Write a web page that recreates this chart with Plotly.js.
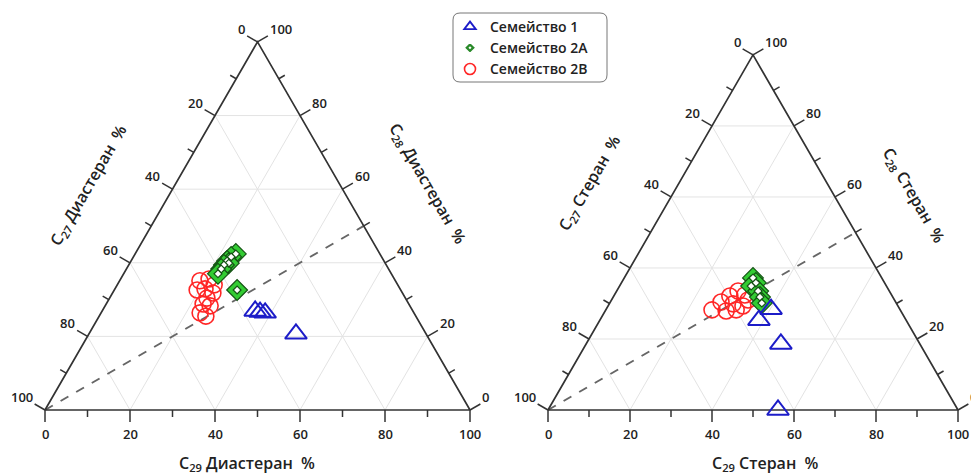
<!DOCTYPE html>
<html><head><meta charset="utf-8">
<script src="https://cdn.plot.ly/plotly-3.0.1.min.js"></script>
<style>html,body{margin:0;padding:0;background:#fff}</style>
</head><body><div id="chart" style="width:971px;height:474px"></div>
<script>
// Ternary components: C28 -> top vertex, C27 -> bottom-left vertex, C29 -> bottom-right vertex

// ---- Left diagram: Диастераны ----
const diaFam1_C27 = [37.1, 36.1, 35.0, 30.6];
const diaFam1_C28 = [26.9, 26.6, 26.4, 20.7];
const diaFam1_C29 = [36.0, 37.3, 38.6, 48.7];

const diaFam2A_C27 = [33.9, 35.4, 36.9, 36.8, 38.2, 39.4, 40.8, 38.5];
const diaFam2A_C28 = [42.4, 41.6, 40.5, 39.9, 39.4, 38.3, 37.0, 32.6];
const diaFam2A_C29 = [23.7, 23.0, 22.6, 23.3, 22.4, 22.3, 22.2, 28.9];

const diaFam2B_C27 = [46.0, 43.6, 43.2, 47.9, 45.9, 44.6, 46.7, 48.4, 47.0, 50.3, 49.4];
const diaFam2B_C28 = [35.1, 35.6, 34.0, 32.6, 32.9, 31.8, 30.4, 28.8, 28.3, 26.4, 25.5];
const diaFam2B_C29 = [18.9, 20.8, 22.8, 19.5, 21.2, 23.6, 22.9, 22.8, 24.7, 23.3, 25.1];

// ---- Right diagram: Стераны ----
const stFam1_C27 = [35.9, 31.4, 33.9, 43.9];
const stFam1_C28 = [25.3, 28.4, 18.6, 0.0];
const stFam1_C29 = [38.8, 40.2, 47.5, 56.1];

const stFam2A_C27 = [31.4, 31.4, 33.0, 32.0, 32.4, 32.8];
const stFam2A_C28 = [37.2, 35.8, 34.9, 33.5, 31.8, 30.1];
const stFam2A_C29 = [31.4, 32.8, 32.1, 34.5, 35.8, 37.1];

const stFam2B_C27 = [45.9, 42.6, 39.6, 36.9, 35.8, 39.9, 37.8, 42.6, 40.0, 35.7];
const stFam2B_C28 = [28.2, 30.4, 32.1, 33.5, 32.4, 29.9, 29.3, 27.9, 28.2, 31.0];
const stFam2B_C29 = [25.9, 27.0, 28.3, 29.6, 31.8, 30.2, 32.9, 29.5, 31.8, 33.3];

// Reference line (C28 = C29) from the C27 vertex
const refLine_C27 = [100, 0];
const refLine_C28 = [0, 50];
const refLine_C29 = [0, 50];

// Axis ticks (percent) and labels
const majorTicks = [0, 20, 40, 60, 80, 100];
const majorLabels = ['0', '20', '40', '60', '80', '100'];
const minorTicks = [10, 30, 50, 70, 90];
const gridVals = [20, 40, 60, 80];

const seriesNames = ['Семейство 1', 'Семейство 2A', 'Семейство 2B'];
const titlesLeft = ['C<sub>27</sub> Диастеран\u00a0 %', 'C<sub>28</sub> Диастеран\u00a0 %', 'C<sub>29</sub> Диастеран\u00a0 %'];
const titlesRight = ['C<sub>27</sub> Стеран\u00a0 %', 'C<sub>28</sub> Стеран\u00a0 %', 'C<sub>29</sub> Стеран\u00a0 %'];

// ---------------- styling / geometry ----------------
const FONT = 'Open Sans, Noto Sans, sans-serif';
const W = 971, H = 474;
const BLUE = '#1c1cc8', RED = '#ff2626', GREEN = '#33cc33', DKGREEN = '#145214';
const AXC = '#333333';
const SQ = Math.sqrt(3) / 2;
const MAJ_LEN = 12, MIN_LEN = 7;   // tick lengths in px

// ternary (c27 = b, c28 = a, c29 = c) -> cartesian unit-triangle coords (side 100)
function toXY(c27, c28, c29) {
  const s = c27 + c28 + c29;
  return [(c29 + c28 / 2) / s * 100, c28 / s * 100 * SQ];
}
function mapXY(C27, C28, C29) {
  const x = [], y = [];
  for (let i = 0; i < C27.length; i++) { const p = toXY(C27[i], C28[i], C29[i]); x.push(p[0]); y.push(p[1]); }
  return {x, y};
}

const panels = [
  {xa:'x', ya:'y', S:4.25, ox:45, oy:410, pxRange:[0, 485.5], dom:[0, 0.5], titles:titlesLeft,
   titlePos:[[88, 185, -60], [427, 184, 60], [247, 463, 0]],
   f1:[diaFam1_C27, diaFam1_C28, diaFam1_C29], f2a:[diaFam2A_C27, diaFam2A_C28, diaFam2A_C29],
   f2b:[diaFam2B_C27, diaFam2B_C28, diaFam2B_C29]},
  {xa:'x2', ya:'y2', S:4.10, ox:548, oy:410, pxRange:[485.5, 971], dom:[0.5, 1], titles:titlesRight,
   titlePos:[[589, 183, -60], [914, 195, 60], [765, 463, 0]],
   f1:[stFam1_C27, stFam1_C28, stFam1_C29], f2a:[stFam2A_C27, stFam2A_C28, stFam2A_C29],
   f2b:[stFam2B_C27, stFam2B_C28, stFam2B_C29]}
];

// edges: point on edge for a given tick value, and outward normal (data units)
const edges = [
  {pt: v => toXY(100 - v, 0, v), n: [0, -1], kind:'bottom'},          // C29 axis
  {pt: v => toXY(v, 100 - v, 0), n: [-SQ, 0.5], kind:'left'},         // C27 axis
  {pt: v => toXY(0, v, 100 - v), n: [SQ, 0.5], kind:'right'}          // C28 axis
];

const data = [];
const annotations = [];

panels.forEach(P => {
  const base = {xaxis:P.xa, yaxis:P.ya, showlegend:false, hoverinfo:'skip'};
  // grid
  const gx = [], gy = [];
  gridVals.forEach(v => {
    [[toXY(100 - v, v, 0), toXY(0, v, 100 - v)],
     [toXY(v, 100 - v, 0), toXY(v, 0, 100 - v)],
     [toXY(100 - v, 0, v), toXY(0, 100 - v, v)]].forEach(seg => {
      gx.push(seg[0][0], seg[1][0], null); gy.push(seg[0][1], seg[1][1], null);
    });
  });
  data.push(Object.assign({type:'scatter', mode:'lines', x:gx, y:gy, line:{color:'#e3e3e3', width:1}}, base));
  // reference line
  const rl = mapXY(refLine_C27, refLine_C28, refLine_C29);
  data.push(Object.assign({type:'scatter', mode:'lines', x:rl.x, y:rl.y,
    line:{color:'#666', width:2, dash:'dash'}}, base));
  // frame
  const fr = mapXY([100, 0, 0, 100], [0, 0, 100, 0], [0, 100, 0, 0]);
  data.push(Object.assign({type:'scatter', mode:'lines', x:fr.x, y:fr.y, line:{color:AXC, width:1.7}}, base));
  // ticks + labels
  const tx = [], ty = [];
  edges.forEach(E => {
    const add = (v, len) => {
      const p = E.pt(v), L = len / P.S;
      const q = [p[0] + E.n[0] * L, p[1] + E.n[1] * L];
      tx.push(p[0], q[0], null); ty.push(p[1], q[1], null);
      return q;
    };
    minorTicks.forEach(v => add(v, MIN_LEN));
    majorTicks.forEach((v, i) => {
      const q = add(v, MAJ_LEN);
      const a = {text:majorLabels[i], x:q[0], y:q[1], xref:P.xa, yref:P.ya, showarrow:false,
                 font:{family:FONT, size:13, color:'#222', weight:600}, borderpad:0};
      if (E.kind === 'bottom') { a.xanchor = 'center'; a.yanchor = 'top'; a.yshift = -2; }
      else if (E.kind === 'left') { a.xanchor = 'right'; a.yanchor = 'bottom'; a.xshift = -1; a.yshift = -3; }
      else { a.xanchor = 'left'; a.yanchor = 'bottom'; a.xshift = 1; a.yshift = -3; }
      annotations.push(a);
    });
  });
  data.push(Object.assign({type:'scatter', mode:'lines', x:tx, y:ty, line:{color:AXC, width:1.5}}, base));
  // markers
  const r = mapXY(...P.f2b), g = mapXY(...P.f2a), b = mapXY(...P.f1);
  data.push({type:'scatter', mode:'markers', xaxis:P.xa, yaxis:P.ya, name:seriesNames[2], x:r.x, y:r.y, showlegend:false,
    cliponaxis:false, marker:{symbol:'circle-open', size:16, color:RED, line:{width:1.6, color:RED}}});
  data.push({type:'scatter', mode:'markers', xaxis:P.xa, yaxis:P.ya, name:seriesNames[1], x:g.x, y:g.y, showlegend:false,
    cliponaxis:false, marker:{symbol:'diamond', size:16, color:GREEN, line:{width:1.2, color:DKGREEN}}});
  data.push({type:'scatter', mode:'markers', xaxis:P.xa, yaxis:P.ya, name:seriesNames[1], x:g.x, y:g.y, showlegend:false,
    cliponaxis:false, hoverinfo:'skip', marker:{symbol:'diamond', size:6, color:'#ffffff', line:{width:1.2, color:DKGREEN}}});
  data.push({type:'scatter', mode:'markers', xaxis:P.xa, yaxis:P.ya, name:seriesNames[0], x:b.x, y:b.y, showlegend:false,
    cliponaxis:false, marker:{symbol:'triangle-up-open', size:19, color:BLUE, line:{width:2, color:BLUE}}});
  // axis titles
  P.titles.forEach((t, i) => {
    const tp = P.titlePos[i];
    annotations.push({text:t, x:tp[0] / W, y:1 - tp[1] / H, xref:'paper', yref:'paper', showarrow:false,
      xanchor:'center', yanchor:'middle', textangle:tp[2], font:{family:FONT, size:16, color:'#222', weight:600}});
  });
});

// legend entries
data.push(
  {type:'scatter', x:[null], y:[null], mode:'markers', name:seriesNames[0], legendgroup:'g1',
   marker:{symbol:'triangle-up-open', size:10, color:BLUE, line:{width:1.8, color:BLUE}}},
  {type:'scatter', x:[null], y:[null], mode:'markers', name:seriesNames[1], legendgroup:'g2',
   marker:{symbol:'diamond-dot', size:9, color:'#2a8a2a', line:{width:1.5, color:'#ffffff'}}},
  {type:'scatter', x:[null], y:[null], mode:'markers', name:seriesNames[2], legendgroup:'g3',
   marker:{symbol:'circle-open', size:11, color:RED, line:{width:1.6, color:RED}}}
);

function roundedRectPath(x0, y0, x1, y1, r) {
  const X = v => (v / W).toFixed(5), Y = v => (1 - v / H).toFixed(5);
  return `M${X(x0+r)},${Y(y0)} L${X(x1-r)},${Y(y0)} Q${X(x1)},${Y(y0)} ${X(x1)},${Y(y0+r)} ` +
         `L${X(x1)},${Y(y1-r)} Q${X(x1)},${Y(y1)} ${X(x1-r)},${Y(y1)} L${X(x0+r)},${Y(y1)} ` +
         `Q${X(x0)},${Y(y1)} ${X(x0)},${Y(y1-r)} L${X(x0)},${Y(y0+r)} Q${X(x0)},${Y(y0)} ${X(x0+r)},${Y(y0)} Z`;
}

function axPair(P) {
  const xr = [(P.pxRange[0] - P.ox) / P.S, (P.pxRange[1] - P.ox) / P.S];
  const yr = [(P.oy - H) / P.S, P.oy / P.S];
  return [{visible:false, domain:P.dom, range:xr, fixedrange:true},
          {visible:false, domain:[0, 1], range:yr, fixedrange:true}];
}
const [xa1, ya1] = axPair(panels[0]);
const [xa2, ya2] = axPair(panels[1]);

const layout = {
  width:W, height:H, margin:{l:0, r:0, t:0, b:0, pad:0},
  paper_bgcolor:'#ffffff', plot_bgcolor:'rgba(0,0,0,0)',
  font:{family:FONT, color:'#222'},
  xaxis:xa1, yaxis:Object.assign(ya1, {anchor:'x'}),
  xaxis2:Object.assign(xa2, {anchor:'y2'}), yaxis2:Object.assign(ya2, {anchor:'x2'}),
  showlegend:true,
  legend:{x:450 / W, y:1 - 11 / H, xanchor:'left', yanchor:'top', bgcolor:'rgba(0,0,0,0)', borderwidth:0,
          font:{family:FONT, size:14, color:'#222', weight:600}, tracegroupgap:0, itemsizing:'trace'},
  shapes:[{type:'path', xref:'paper', yref:'paper', path:roundedRectPath(453, 13, 607, 82, 7),
           line:{color:'#777', width:1}, fillcolor:'rgba(0,0,0,0)'}],
  annotations:annotations
};

Plotly.newPlot('chart', data, layout, {displayModeBar:false, staticPlot:true});
</script></body></html>
